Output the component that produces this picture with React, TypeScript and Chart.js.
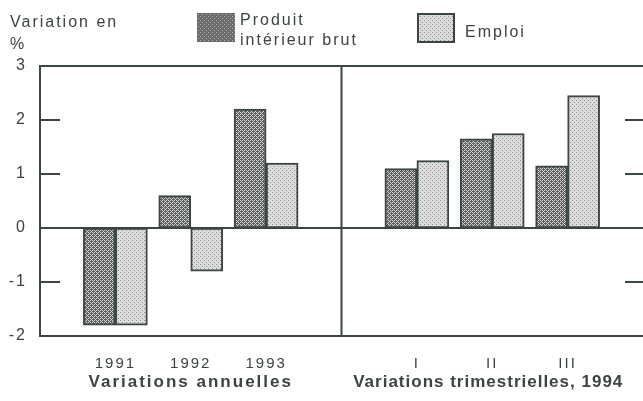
import React, { useEffect, useRef } from 'react';
import { Chart, registerables } from 'chart.js';

Chart.register(...registerables);

// ---- data ----
const categories = ['', '1991', '1992', '1993', '', 'I', 'II', 'III', ''];
const pibValues = [null, -1.8, 0.6, 2.2, null, 1.1, 1.65, 1.15, null];
const emploiValues = [null, -1.8, -0.8, 1.2, null, 1.25, 1.75, 2.45, null];
const yMin = -2;
const yMax = 3;
const yStep = 1;
const seriesNames = ['Produit', 'intérieur brut', 'Emploi'];
const axisTitle = ['Variation en', '%'];
const groupTitles = [
  { label: 'Variations annuelles', at: '1992' },
  { label: 'Variations trimestrielles, 1994', at: 'II' },
];
const dividerIndex = 4;

const LINE = '#3c4640';
const TEXT = '#3c4440';
const FONT = '"Liberation Sans", Arial, Helvetica, sans-serif';

function makePattern(bg: string, dot: string, cells: number[][], size: number) {
  const c = document.createElement('canvas');
  c.width = size;
  c.height = size;
  const g = c.getContext('2d')!;
  g.fillStyle = bg;
  g.fillRect(0, 0, size, size);
  g.fillStyle = dot;
  cells.forEach(([x, y]) => g.fillRect(x, y, 1, 1));
  const ctx = document.createElement('canvas').getContext('2d')!;
  return ctx.createPattern(c, 'repeat')!;
}

export default function App() {
  const ref = useRef<HTMLCanvasElement | null>(null);

  useEffect(() => {
    if (!ref.current) return;
    const pibPattern = makePattern('#5c5f5d', '#d4d4d4', [[0, 0], [1, 1], [2, 2], [3, 3], [0, 2], [2, 0]], 4);
    const emploiPattern = makePattern('#dcdcdc', '#8c8c8c', [[0, 0], [2, 2]], 4);
    const legendPibPattern = makePattern('#6a6d6b', '#b8b8b8', [[0, 0], [2, 2]], 4);

    const frame = {
      id: 'frame',
      beforeDraw(chart: any) {
        chart.ctx.letterSpacing = '2px';
      },
      beforeDatasetsDraw(chart: any) {
        const { ctx, chartArea, scales } = chart;
        const { left, right, top, bottom } = chartArea;
        const x = scales.x;
        const y = scales.y;
        ctx.save();
        ctx.strokeStyle = LINE;
        ctx.lineWidth = 2;
        ctx.beginPath();
        ctx.moveTo(left, top);
        ctx.lineTo(right, top);
        ctx.moveTo(left, bottom);
        ctx.lineTo(right, bottom);
        ctx.moveTo(left, top - 1);
        ctx.lineTo(left, bottom + 1);
        const dx = x.getPixelForValue(dividerIndex);
        ctx.moveTo(dx, top);
        ctx.lineTo(dx, bottom);
        const y0 = y.getPixelForValue(0);
        ctx.moveTo(left, y0);
        ctx.lineTo(right, y0);
        y.ticks.forEach((t: any) => {
          if (t.value === y.min || t.value === y.max || t.value === 0) return;
          const py = y.getPixelForValue(t.value);
          ctx.moveTo(left, py);
          ctx.lineTo(left + 20, py);
          ctx.moveTo(right - 18, py);
          ctx.lineTo(right, py);
        });
        ctx.stroke();
        ctx.restore();
      },
      afterDraw(chart: any) {
        const { ctx, scales } = chart;
        const x = scales.x;
        ctx.save();
        ctx.letterSpacing = '2px';
        ctx.fillStyle = TEXT;
        ctx.textBaseline = 'alphabetic';
        ctx.textAlign = 'left';
        ctx.font = `16px ${FONT}`;
        ctx.fillText(axisTitle[0], 10, 27);
        ctx.fillText(axisTitle[1], 10, 49);
        // legend
        ctx.fillStyle = legendPibPattern;
        ctx.fillRect(197, 13, 38, 29);
        ctx.fillStyle = emploiPattern;
        ctx.fillRect(418, 14, 36, 28);
        ctx.strokeStyle = LINE;
        ctx.lineWidth = 2;
        ctx.strokeRect(418, 14, 36, 28);
        ctx.fillStyle = TEXT;
        ctx.fillText(seriesNames[0], 240, 25);
        ctx.fillText(seriesNames[1], 240, 45);
        ctx.fillText(seriesNames[2], 465, 37);
        // group titles
        ctx.font = `bold 17px ${FONT}`;
        ctx.textAlign = 'center';
        groupTitles.forEach((g, i) => {
          ctx.letterSpacing = i === 0 ? '2px' : '1px';
          const px = x.getPixelForValue(categories.indexOf(g.at));
          ctx.fillText(g.label, px - (i === 0 ? 0 : 4), 387);
        });
        ctx.restore();
      },
    };

    const chart = new Chart(ref.current, {
      type: 'bar',
      data: {
        labels: categories,
        datasets: [
          {
            label: seriesNames[0] + ' ' + seriesNames[1],
            data: pibValues as any,
            backgroundColor: pibPattern as any,
            borderColor: LINE,
            borderWidth: 2,
            borderSkipped: false,
            barThickness: 32,
          },
          {
            label: seriesNames[2],
            data: emploiValues as any,
            backgroundColor: emploiPattern as any,
            borderColor: LINE,
            borderWidth: 2,
            borderSkipped: false,
            barThickness: 32,
          },
        ],
      },
      options: {
        animation: false,
        responsive: true,
        maintainAspectRatio: false,
        layout: { padding: { top: 66, right: 0, left: 0, bottom: 0 } },
        plugins: { legend: { display: false }, tooltip: { enabled: false } },
        scales: {
          x: {
            type: 'category',
            offset: false,
            grid: { display: false, drawTicks: false, offset: false },
            border: { display: false },
            ticks: {
              autoSkip: false,
              maxRotation: 0,
              padding: 19,
              color: TEXT,
              font: { size: 15, family: FONT },
            },
            afterFit(scale: any) {
              scale.height = 65;
              scale.paddingLeft = 0;
              scale.paddingRight = 0;
            },
          },
          y: {
            min: yMin,
            max: yMax,
            grid: { display: false, drawTicks: false },
            border: { display: false },
            ticks: {
              stepSize: yStep,
              padding: 13,
              color: TEXT,
              font: { size: 16, family: FONT },
            },
            afterFit(scale: any) {
              scale.width = 40;
              scale.paddingTop = 0;
              scale.paddingBottom = 0;
            },
          },
        },
      },
      plugins: [frame],
    });
    return () => chart.destroy();
  }, []);

  return (
    <div style={{ position: 'absolute', left: 0, top: 0, width: 643, height: 401, background: '#fff' }}>
      <canvas ref={ref} />
    </div>
  );
}
